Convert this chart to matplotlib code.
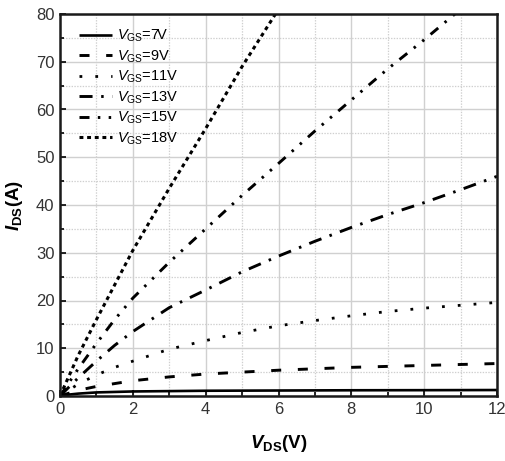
import numpy as np
import matplotlib
matplotlib.use("Agg")
import matplotlib.pyplot as plt
from matplotlib.ticker import MultipleLocator

plt.rcParams['font.family'] = ['Liberation Sans', 'DejaVu Sans']
plt.rcParams['mathtext.fontset'] = 'custom'
plt.rcParams['mathtext.rm'] = 'Liberation Sans'
plt.rcParams['mathtext.it'] = 'Liberation Sans:italic'
plt.rcParams['mathtext.bf'] = 'Liberation Sans:bold'
plt.rcParams['mathtext.bfit'] = 'Liberation Sans:italic:bold'
plt.rcParams['lines.scale_dashes'] = False

# Output characteristics: drain current vs drain voltage for several gate voltages
vgs_labels = ['7V', '9V', '11V', '13V', '15V', '18V']

v_7 = [0, 0.25, 0.5, 1, 2, 4, 6, 8, 10, 12]
i_7 = [0, 0.3, 0.5, 0.75, 0.95, 1.1, 1.15, 1.2, 1.22, 1.25]

v_9 = [0, 0.5, 1, 1.5, 2, 3, 4, 5, 6, 7, 8, 9, 10, 11, 12]
i_9 = [0, 1.2, 2.0, 2.6, 3.2, 4.0, 4.6, 5.0, 5.4, 5.7, 6.0, 6.2, 6.4, 6.6, 6.8]

v_11 = [0, 0.5, 1, 1.5, 2, 3, 4, 5, 6, 7, 8, 9, 10, 11, 12]
i_11 = [0, 2.5, 4.4, 6.0, 7.3, 9.8, 11.6, 13.3, 14.7, 15.8, 16.8, 17.7, 18.4, 19.0, 19.6]

v_13 = [0, 0.5, 1, 1.5, 2, 3, 4, 5, 6, 7, 8, 9, 10, 11, 12]
i_13 = [0, 3.8, 7.3, 10.6, 13.5, 18.5, 22.2, 26.0, 29.3, 32.4, 35.3, 38.0, 40.5, 43.2, 46.0]

v_15 = [0, 0.5, 1, 1.5, 2, 3, 4, 5, 6, 7, 8, 9, 10, 11]
i_15 = [0, 5.7, 11.0, 16.0, 20.5, 28.0, 35.0, 42.0, 48.7, 55.5, 62.0, 68.5, 74.6, 81.0]

v_18 = [0, 0.5, 1, 2, 3, 4, 5, 6]
i_18 = [0, 8.5, 16.0, 30.5, 43.5, 56.0, 69.0, 81.0]

series = [(v_7, i_7), (v_9, i_9), (v_11, i_11), (v_13, i_13), (v_15, i_15), (v_18, i_18)]

styles = [
    dict(linestyle='-', lw=1.9),
    dict(linestyle=(0, (7.2, 12.0)), lw=2.1),
    dict(linestyle=(0, (2.0, 9.4)), lw=2.0),
    dict(linestyle=(0, (9.4, 6.2, 1.8, 6.2)), lw=2.1),
    dict(linestyle=(0, (7.2, 6.0, 1.8, 6.0, 1.8, 6.0)), lw=2.1),
    dict(linestyle=(0, (2.8, 2.7)), lw=2.2),
]

fig = plt.figure(figsize=(5.05, 4.61), dpi=100)
ax = fig.add_axes([60/505, 65/461, 437/505, 382/461])

for (v, i), lab, st in zip(series, vgs_labels, styles):
    ax.plot(v, i, color='black', label=r'$\mathit{V}_{\mathrm{GS}}$=' + lab,
            solid_capstyle='butt', dash_capstyle='butt', clip_on=True, **st)

ax.set_xlim(0, 12)
ax.set_ylim(0, 80)
ax.xaxis.set_major_locator(MultipleLocator(2))
ax.xaxis.set_minor_locator(MultipleLocator(1))
ax.yaxis.set_major_locator(MultipleLocator(10))
ax.yaxis.set_minor_locator(MultipleLocator(5))

ax.set_axisbelow(True)
ax.grid(which='major', color='#d0d0d0', lw=1.0, linestyle='-')
ax.grid(which='minor', color='#cfcfcf', lw=0.9, linestyle=(0, (1, 1)))

ax.tick_params(which='both', direction='in', top=False, right=False,
               labelsize=12, labelcolor='#333333', width=1.2, pad=4)
ax.tick_params(which='major', length=4.5)
ax.tick_params(which='minor', length=3)

for sp in ax.spines.values():
    sp.set_linewidth(1.8)
    sp.set_color('#1a1a1a')

ax.set_xlabel(r'$\mathbfit{V}_{\mathbf{DS}}$(V)', fontsize=13.5, fontweight='bold', labelpad=12)
ax.set_ylabel(r'$\mathbfit{I}_{\mathbf{DS}}$(A)', fontsize=13.5, fontweight='bold', labelpad=8)

ax.legend(loc='upper left', frameon=False, fontsize=10.5, handlelength=2.3,
          handletextpad=0.3, labelspacing=0.28, borderaxespad=0.3,
          bbox_to_anchor=(0.02, 0.99))

fig.savefig('out.png', dpi=100)
